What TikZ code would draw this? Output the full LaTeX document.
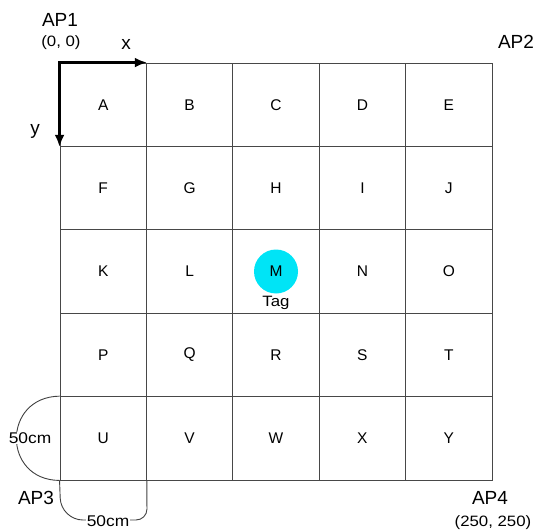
\documentclass[tikz,border=0pt]{standalone}
\usepackage{fontspec}
\setmainfont{Liberation Sans}
\newfontfamily\widesans[FakeStretch=1.12]{Liberation Sans}
\usetikzlibrary{arrows.meta}
\definecolor{tagcyan}{RGB}{0,228,246}
\begin{document}
\begin{tikzpicture}[x=1pt,y=-1pt,
  cell/.style={draw=black!72, line width=0.9pt, minimum width=86.4pt, minimum height=83.4pt,
               inner sep=0pt, font=\fontsize{15.5}{15.5}\selectfont},
  aplabel/.style={inner sep=0pt, font=\fontsize{19}{19}\selectfont},
  coordlabel/.style={inner sep=0pt, font=\widesans\fontsize{15}{15}\selectfont},
  axislabel/.style={inner sep=0pt, font=\fontsize{19}{19}\selectfont},
  dimlabel/.style={font=\widesans\fontsize{15.5}{15.5}\selectfont, fill=white, inner sep=0.3pt},
  axis/.style={line width=3pt, line cap=rect, -{Latex[length=12pt,width=10pt]}},
  dimcurve/.style={draw=black!75, line width=0.9pt}]
\useasboundingbox (0,0) rectangle (538,532);

% 5x5 grid of cells
\foreach \r/\names in {0/{A,B,C,D,E},1/{F,G,H,I,J},2/{K,L,M,N,O},3/{P,Q,R,S,T},4/{U,V,W,X,Y}}{
  \foreach \n [count=\c from 0] in \names {
    \node[cell] (cell\n) at ({60+86.4*(\c+0.5)},{63+83.4*(\r+0.5)}) {\ifx\n M\else\n\fi};
  }
}

% tag in cell M
\node[circle, fill=tagcyan, minimum size=44pt, inner sep=0pt,
      font=\fontsize{15.5}{15.5}\selectfont] (tag) at (cellM.center) {M};
\node[font=\widesans\fontsize{15}{15}\selectfont, anchor=north, inner sep=0pt] (taglabel)
  at ([yshift=-2pt]tag.south) {Tag};

% axes from the origin corner
\coordinate (origin) at (cellA.north west);
\coordinate (xend) at (cellA.north east);
\coordinate (yend) at (cellA.south west);
\draw[axis] (origin) -- (xend);
\draw[axis] (origin) -- (yend);
\node[axislabel] (xlab) at (126,44) {x};
\node[axislabel] (ylab) at (35,131) {y};

% access points
\node[aplabel] (ap1) at (60,20) {AP1};
\node[coordlabel] (ap1c) at (61,43) {(0, 0)};
\node[aplabel] (ap2) at (516,42) {AP2};
\node[aplabel] (ap3) at (36,498) {AP3};
\node[aplabel] (ap4) at (490,498) {AP4};
\node[coordlabel] (ap4c) at (493,523) {(250, 250)};

% cell size markers
\draw[dimcurve] (cellU.north west) .. controls (2,397) and (2,480) .. (cellU.south west);
\node[dimlabel] (dimleft) at (30,438) {50cm};
\draw[dimcurve] (cellU.south west) [rounded corners=22pt] -- (61,520)
  [rounded corners=11pt] -- (147,520) -- (cellU.south east);
\node[dimlabel] (dimbottom) at (108,521) {50cm};
\end{tikzpicture}
\end{document}
